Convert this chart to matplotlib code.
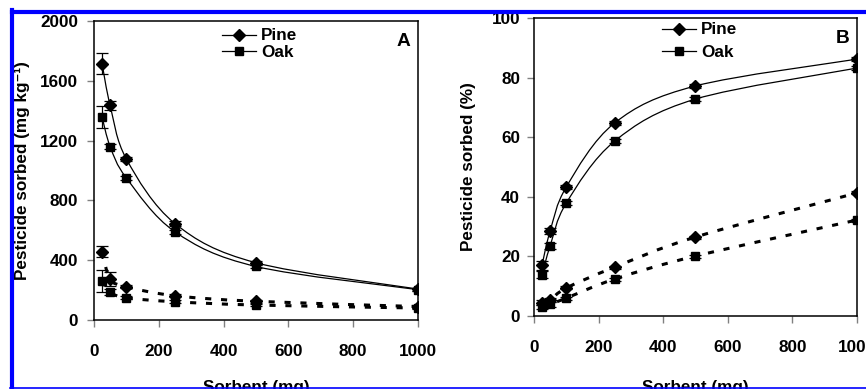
import matplotlib
matplotlib.use("Agg")
import matplotlib.pyplot as plt
import numpy as np
from matplotlib.path import Path
from matplotlib.patches import PathPatch
from matplotlib.lines import Line2D

plt.rcParams['font.family'] = ['Liberation Sans', 'DejaVu Sans']
plt.rcParams['font.weight'] = 'bold'

# sorbent mass (mg)
sorbent = [25, 50, 100, 250, 500, 1000]

# panel A: pesticide sorbed (mg/kg)
pine_a = [1715, 1435, 1077, 645, 383, 207]
oak_a = [1358, 1160, 950, 590, 358, 203]
pine_a_err = [70, 30, 15, 15, 12, 10]
oak_a_err = [75, 15, 15, 12, 10, 10]
pine_a_d = [458, 275, 222, 162, 125, 90]
oak_a_d = [262, 187, 148, 122, 100, 80]
pine_a_d_err = [35, 45, 10, 10, 10, 8]
oak_a_d_err = [72, 20, 10, 10, 8, 8]

# panel B: pesticide sorbed (%)
pine_b = [17.1, 28.5, 43.3, 64.8, 77.2, 86.2]
oak_b = [13.8, 23.5, 37.9, 58.7, 72.8, 83.2]
pine_b_err = [1.5, 1.0, 0.8, 0.8, 0.6, 0.6]
oak_b_err = [1.2, 1.0, 0.8, 0.8, 0.6, 0.6]
pine_b_d = [4.4, 5.4, 9.4, 16.4, 26.5, 41.3]
oak_b_d = [3.0, 3.9, 6.0, 12.4, 20.1, 32.2]
pine_b_d_err = [0.8, 0.8, 0.5, 0.5, 0.5, 0.5]
oak_b_d_err = [0.8, 0.8, 0.5, 0.5, 0.5, 0.5]

FS = 12.3


def smooth_path(x, y):
    # smoothed line through the points (like a spreadsheet "smoothed line")
    x = np.asarray(x, float)
    y = np.asarray(y, float)
    n = len(x)
    verts = [(x[0], y[0])]
    codes = [Path.MOVETO]
    for i in range(n - 1):
        j0 = max(i - 1, 0)
        j3 = min(i + 2, n - 1)
        c1 = (x[i] + (x[i + 1] - x[j0]) / 6, y[i] + (y[i + 1] - y[j0]) / 6)
        c2 = (x[i + 1] - (x[j3] - x[i]) / 6, y[i + 1] - (y[j3] - y[i]) / 6)
        verts += [c1, c2, (x[i + 1], y[i + 1])]
        codes += [Path.CURVE4] * 3
    return Path(verts, codes)


def draw_series(ax, y, err, marker, ms, dashed):
    if dashed:
        patch = PathPatch(smooth_path(sorbent, y), fill=False, edgecolor='black',
                          lw=2.2, linestyle=(0, (2.0, 3.2)), capstyle='butt')
    else:
        patch = PathPatch(smooth_path(sorbent, y), fill=False, edgecolor='black', lw=0.9)
    ax.add_patch(patch)
    ax.errorbar(sorbent, y, yerr=err, fmt=marker, ms=ms, color='black',
                ecolor='black', elinewidth=0.9, capsize=4, capthick=0.9, zorder=3)


def style_axes(ax, ymax, ystep, ypad):
    ax.set_xlim(0, 1000)
    ax.set_ylim(0, ymax)
    ax.set_xticks(np.arange(0, 1001, 200))
    ax.set_yticks(np.arange(0, ymax + 1, ystep))
    for s in ax.spines.values():
        s.set_linewidth(1.1)
        s.set_color('black')
    ax.tick_params(axis='both', direction='out', length=5, width=1, color='#808080',
                   labelsize=FS)
    ax.tick_params(axis='x', pad=12)
    ax.tick_params(axis='y', pad=ypad)
    for lab in ax.get_xticklabels() + ax.get_yticklabels():
        lab.set_fontweight('bold')


fig = plt.figure(figsize=(8.66, 3.89), dpi=100)
ax1 = fig.add_axes([0.1085, 0.1774, 0.3742, 0.7686])
ax2 = fig.add_axes([0.6166, 0.1877, 0.3730, 0.7660])

# panel A
draw_series(ax1, pine_a, pine_a_err, 'D', 6.5, False)
draw_series(ax1, oak_a, oak_a_err, 's', 6, False)
draw_series(ax1, pine_a_d, pine_a_d_err, 'D', 6.5, True)
draw_series(ax1, oak_a_d, oak_a_d_err, 's', 6, True)
style_axes(ax1, 2000, 400, 6.5)
ax1.set_ylabel('Pesticide sorbed (mg kg\u207b\u00b9)', fontsize=FS, fontweight='bold')
ax1.yaxis.set_label_coords(-0.198, 0.5)
ax1.set_xlabel('Sorbent (mg)', fontsize=FS, fontweight='bold')
ax1.xaxis.set_label_coords(0.5, -0.20)
ax1.text(0.955, 0.93, 'A', transform=ax1.transAxes, fontsize=FS + 1.5, fontweight='bold',
         ha='center', va='center')

# panel B
draw_series(ax2, pine_b, pine_b_err, 'D', 6.5, False)
draw_series(ax2, oak_b, oak_b_err, 's', 6, False)
draw_series(ax2, pine_b_d, pine_b_d_err, 'D', 6.5, True)
draw_series(ax2, oak_b_d, oak_b_d_err, 's', 6, True)
style_axes(ax2, 100, 20, 5)
ax2.set_ylabel('Pesticide sorbed (%)', fontsize=FS, fontweight='bold')
ax2.yaxis.set_label_coords(-0.18, 0.5)
ax2.set_xlabel('Sorbent (mg)', fontsize=FS, fontweight='bold')
ax2.xaxis.set_label_coords(0.5, -0.215)
ax2.text(0.955, 0.93, 'B', transform=ax2.transAxes, fontsize=FS + 1.5, fontweight='bold',
         ha='center', va='center')

handles = [Line2D([], [], color='black', lw=0.9, marker='D', ms=6.5),
           Line2D([], [], color='black', lw=0.9, marker='s', ms=6)]
ax1.legend(handles, ['Pine', 'Oak'], loc='upper left', bbox_to_anchor=(0.395, 0.975),
           frameon=False, borderpad=0, borderaxespad=0, handlelength=2.0,
           handletextpad=0.3, labelspacing=0.1, prop={'size': FS, 'weight': 'bold'})
ax2.legend(handles, ['Pine', 'Oak'], loc='upper left', bbox_to_anchor=(0.396, 0.985),
           frameon=False, borderpad=0, borderaxespad=0, handlelength=2.0,
           handletextpad=0.3, labelspacing=0.45, prop={'size': FS, 'weight': 'bold'})

# blue frame around the figure
blue = '#0000ff'
fig.add_artist(Line2D([12 / 866, 1], [1 - 12 / 389] * 2, transform=fig.transFigure,
                      color=blue, lw=3))
fig.add_artist(Line2D([12 / 866] * 2, [1 - 10 / 389, 0], transform=fig.transFigure,
                      color=blue, lw=3))
fig.add_artist(Line2D([10 / 866, 1], [1.5 / 389] * 2, transform=fig.transFigure,
                      color=blue, lw=1.2))

fig.savefig('out.png', dpi=100)
